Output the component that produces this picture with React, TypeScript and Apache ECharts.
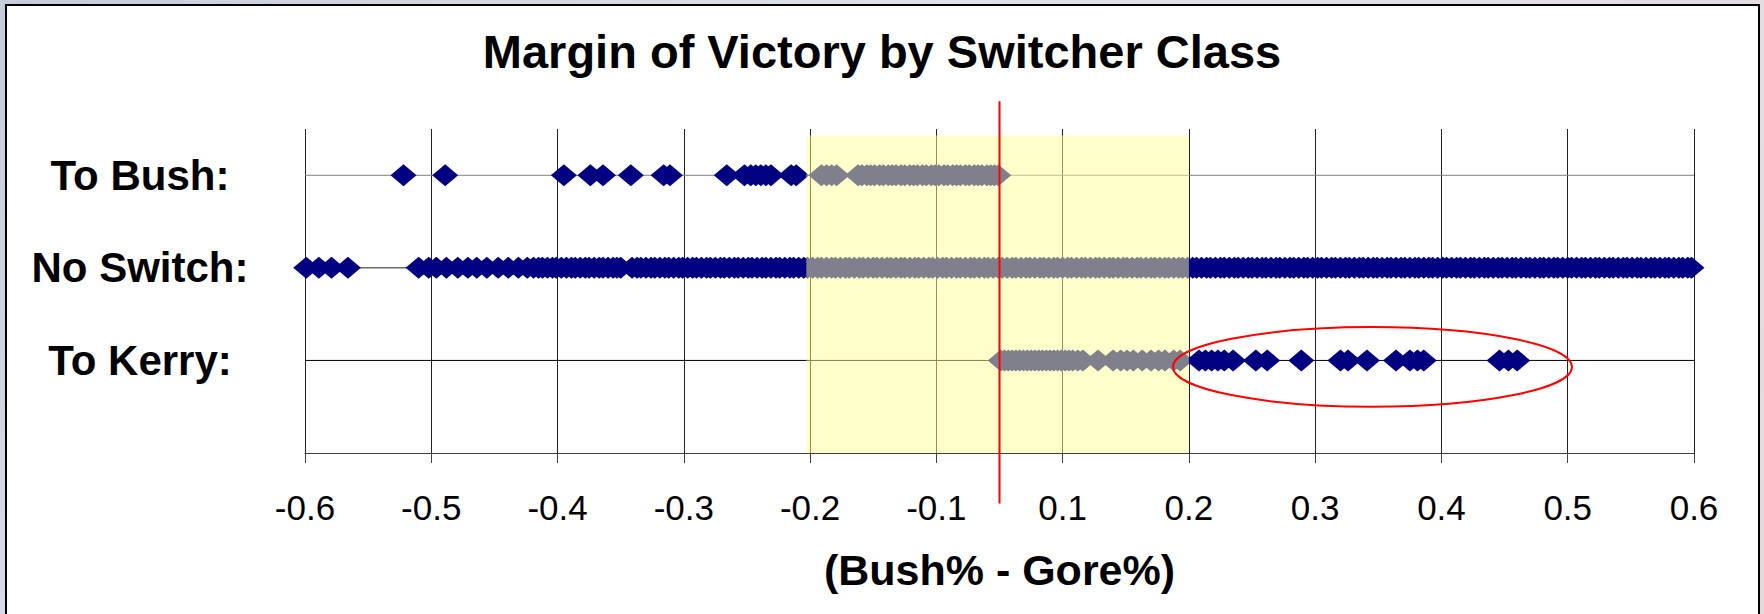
import React, { useEffect, useRef } from 'react';
import * as echarts from 'echarts';

// ---------- data ----------
const chartTitle = 'Margin of Victory by Switcher Class';
const xAxisTitle = '(Bush% - Gore%)';
// Excel axis runs -0.55..0.55 by 0.1; its labels are rounded to one decimal
const xTickLabels = ['-0.6', '-0.5', '-0.4', '-0.3', '-0.2', '-0.1', '0.1', '0.2', '0.3', '0.4', '0.5', '0.6'];
const xMin = -0.55;
const xMax = 0.55;
const rowLabels = ['To Bush:', 'No Switch:', 'To Kerry:'];
const rowLevels = [3, 2, 1];
const yMax = 3.5;

const toBush = [
  -0.472, -0.439, -0.345, -0.324, -0.314, -0.292, -0.266, -0.261, -0.216, -0.202,
  -0.197, -0.193, -0.189, -0.185, -0.181, -0.165, -0.161,
  -0.141, -0.137, -0.133, -0.129,
  -0.112, -0.109, -0.105, -0.102, -0.099, -0.095, -0.092, -0.088, -0.085, -0.082,
  -0.078, -0.075, -0.071, -0.068, -0.065, -0.061, -0.058, -0.054, -0.051, -0.048,
  -0.044, -0.041, -0.037, -0.034, -0.031, -0.027, -0.024, -0.020, -0.017, -0.014,
  -0.010, -0.007, -0.004, -0.001,
];

const noSwitch = [
  -0.549, -0.539, -0.529, -0.516,
  -0.460, -0.452, -0.446, -0.438, -0.429, -0.421, -0.414, -0.406, -0.397, -0.389,
  -0.381, -0.374,
  -0.369, -0.365, -0.362, -0.358, -0.354, -0.351, -0.347, -0.343, -0.339, -0.336,
  -0.332, -0.328, -0.325, -0.321, -0.317, -0.314, -0.310, -0.306, -0.303, -0.300,
  -0.291, -0.287, -0.284, -0.280, -0.276, -0.273, -0.269, -0.265, -0.262, -0.258,
  -0.254, -0.251, -0.247, -0.243, -0.240, -0.236, -0.232, -0.229, -0.225, -0.221,
  -0.218, -0.214, -0.210, -0.207, -0.203, -0.199, -0.196, -0.192, -0.188, -0.185,
  -0.181, -0.177, -0.174, -0.170, -0.166, -0.163, -0.159, -0.155, -0.152, -0.148,
  -0.144, -0.141, -0.137, -0.133, -0.130, -0.126, -0.122, -0.119, -0.115, -0.111,
  -0.108, -0.104, -0.100, -0.097, -0.093, -0.089, -0.086, -0.082, -0.078, -0.075,
  -0.071, -0.067, -0.064, -0.060, -0.056, -0.053, -0.049, -0.045, -0.042, -0.038,
  -0.034, -0.031, -0.027, -0.023, -0.020, -0.016, -0.012, -0.009, -0.005, -0.001,
  0.002, 0.006, 0.010, 0.013, 0.017, 0.021, 0.024, 0.028, 0.032, 0.035,
  0.039, 0.043, 0.046, 0.050, 0.054, 0.057, 0.061, 0.065, 0.068, 0.072,
  0.076, 0.079, 0.083, 0.087, 0.090, 0.094, 0.098, 0.101, 0.105, 0.109,
  0.112, 0.116, 0.120, 0.123, 0.127, 0.131, 0.134, 0.138, 0.142, 0.145,
  0.149, 0.153, 0.156, 0.160, 0.164, 0.167, 0.171, 0.175, 0.178, 0.182,
  0.186, 0.189, 0.193, 0.197, 0.200, 0.204, 0.208, 0.211, 0.215, 0.219,
  0.222, 0.226, 0.230, 0.233, 0.237, 0.241, 0.244, 0.248, 0.252, 0.255,
  0.259, 0.263, 0.266, 0.270, 0.274, 0.277, 0.281, 0.285, 0.288, 0.292,
  0.296, 0.299, 0.303, 0.307, 0.310, 0.314, 0.318, 0.321, 0.325, 0.329,
  0.332, 0.336, 0.340, 0.343, 0.347, 0.351, 0.354, 0.358, 0.362, 0.365,
  0.369, 0.373, 0.376, 0.380, 0.384, 0.387, 0.391, 0.395, 0.398, 0.402,
  0.406, 0.409, 0.413, 0.417, 0.420, 0.424, 0.428, 0.431, 0.435, 0.439,
  0.442, 0.446, 0.450, 0.453, 0.457, 0.461, 0.464, 0.468, 0.472, 0.475,
  0.479, 0.483, 0.486, 0.490, 0.494, 0.497, 0.501, 0.505, 0.508, 0.512,
  0.516, 0.519, 0.523, 0.527, 0.530, 0.534, 0.538, 0.541, 0.545, 0.548,
];

const toKerry = [
  0.001, 0.004, 0.007, 0.010, 0.013, 0.016, 0.019, 0.022, 0.025, 0.028,
  0.031, 0.034, 0.037, 0.040, 0.043, 0.046, 0.049, 0.052, 0.055, 0.058,
  0.062, 0.066, 0.078,
  0.090, 0.096, 0.101, 0.106, 0.113, 0.120, 0.126, 0.131, 0.138, 0.143,
  0.158, 0.163, 0.168, 0.173, 0.178, 0.185, 0.203, 0.212, 0.239, 0.270,
  0.276, 0.291, 0.314, 0.325, 0.331, 0.336, 0.396, 0.403, 0.410,
];

// highlighted band (-0.15..0.15) and annotations, in data units
const bandRange = [-0.153, 0.15];
const bandTop = 3.43;
const zeroLine = [0, -0.545, 3.8]; // x, y from, y to
const kerryEllipse = [0.2954, 0.93, 0.158, 0.43]; // cx, cy, rx, ry

// ---------- styling ----------
const FONT = "'Liberation Sans', Arial, Helvetica, sans-serif";
const NAVY = '#000080';
const rowLineColors = ['#7f7f7f', '#202020', '#000000'];

function buildOption() {
  const rowSeries = [toBush, noSwitch, toKerry];
  const series: any[] = [];

  rowLevels.forEach((lvl, i) => {
    series.push({
      type: 'line',
      xAxisIndex: 1,
      yAxisIndex: 0,
      data: [[xMin, lvl], [xMax, lvl]],
      symbol: 'none',
      silent: true,
      z: 1,
      lineStyle: { color: rowLineColors[i], width: 1 },
    });
  });

  rowLevels.forEach((lvl, i) => {
    series.push({
      name: rowLabels[i],
      type: 'scatter',
      xAxisIndex: 1,
      yAxisIndex: 0,
      data: rowSeries[i].map((v) => [v, lvl]),
      symbol: 'diamond',
      symbolSize: [26, 22],
      silent: true,
      z: 3,
      itemStyle: { color: NAVY, opacity: 1 },
    });
  });

  // translucent yellow band drawn over everything
  series.push({
    type: 'custom',
    xAxisIndex: 1,
    yAxisIndex: 0,
    silent: true,
    z: 10,
    clip: false,
    data: [[bandRange[0], bandRange[1]]],
    renderItem: (_p: any, api: any) => {
      const a = api.coord([api.value(0), 0]);
      const b = api.coord([api.value(1), bandTop]);
      return {
        type: 'rect',
        shape: { x: a[0], y: b[1], width: b[0] - a[0], height: a[1] - b[1] },
        style: { fill: 'rgba(255,255,153,0.5)' },
      };
    },
  });

  // red zero line
  series.push({
    type: 'custom',
    xAxisIndex: 1,
    yAxisIndex: 0,
    silent: true,
    z: 12,
    clip: false,
    data: [zeroLine],
    renderItem: (_p: any, api: any) => {
      const a = api.coord([api.value(0), api.value(1)]);
      const b = api.coord([api.value(0), api.value(2)]);
      return {
        type: 'line',
        shape: { x1: a[0], y1: a[1], x2: b[0], y2: b[1] },
        style: { stroke: '#ff0000', lineWidth: 2 },
      };
    },
  });

  // red ellipse around the "To Kerry" outliers
  series.push({
    type: 'custom',
    xAxisIndex: 1,
    yAxisIndex: 0,
    silent: true,
    z: 12,
    clip: false,
    data: [kerryEllipse],
    renderItem: (_p: any, api: any) => {
      const c = api.coord([api.value(0), api.value(1)]);
      const s = api.size([api.value(2), api.value(3)]);
      return {
        type: 'ellipse',
        shape: { cx: c[0], cy: c[1], rx: s[0], ry: s[1] },
        style: { fill: 'none', stroke: '#ff0000', lineWidth: 2 },
      };
    },
  });

  return {
    animation: false,
    backgroundColor: 'transparent',
    textStyle: { fontFamily: FONT },
    title: {
      text: chartTitle,
      left: 'center',
      top: 23,
      textStyle: { fontFamily: FONT, fontWeight: 'bold', fontSize: 47, color: '#000' },
    },
    grid: { left: 305, top: 129, width: 1389, height: 324, containLabel: false },
    xAxis: [
      {
        type: 'category',
        data: xTickLabels,
        boundaryGap: false,
        position: 'bottom',
        name: xAxisTitle,
        nameLocation: 'middle',
        nameGap: 95,
        nameTextStyle: { fontFamily: FONT, fontWeight: 'bold', fontSize: 43, color: '#000' },
        axisLine: { show: true, lineStyle: { color: '#404040', width: 1 } },
        axisTick: { show: true, inside: false, length: 10, interval: 0, lineStyle: { color: '#404040', width: 1 } },
        axisLabel: { interval: 0, margin: 37, fontSize: 35, color: '#000', fontFamily: FONT },
        splitLine: { show: true, interval: 0, lineStyle: { color: '#222', width: 1 } },
      },
      {
        type: 'value',
        min: xMin,
        max: xMax,
        show: false,
        splitLine: { show: false },
      },
    ],
    yAxis: {
      type: 'value',
      min: 0,
      max: yMax,
      interval: 1,
      axisLine: { show: false },
      axisTick: { show: false },
      splitLine: { show: false },
      axisLabel: {
        formatter: (v: number) => {
          const i = rowLevels.indexOf(v);
          return i >= 0 ? rowLabels[i] : '';
        },
        fontFamily: FONT,
        fontWeight: 'bold',
        fontSize: 42,
        color: '#000',
        align: 'center',
        margin: 165,
      },
    },
    series,
  };
}

export default function App() {
  const ref = useRef<HTMLDivElement>(null);
  useEffect(() => {
    if (!ref.current) return;
    const chart = echarts.init(ref.current, null, { renderer: 'svg' });
    chart.setOption(buildOption() as any);
    return () => chart.dispose();
  }, []);
  return (
    <div
      style={{
        position: 'fixed',
        left: 0,
        top: 0,
        width: 1764,
        height: 614,
        overflow: 'hidden',
        background: 'linear-gradient(135deg, #c7ccd9 0%, #dfe2ea 40%, #e6d9dc 100%)',
      }}
    >
      <div
        style={{
          position: 'absolute',
          left: 5,
          top: 4,
          width: 1751,
          height: 660,
          background: '#ffffff',
          border: '2px solid #000',
        }}
      />
      <div ref={ref} style={{ position: 'absolute', left: 0, top: 0, width: 1764, height: 614 }} />
    </div>
  );
}
